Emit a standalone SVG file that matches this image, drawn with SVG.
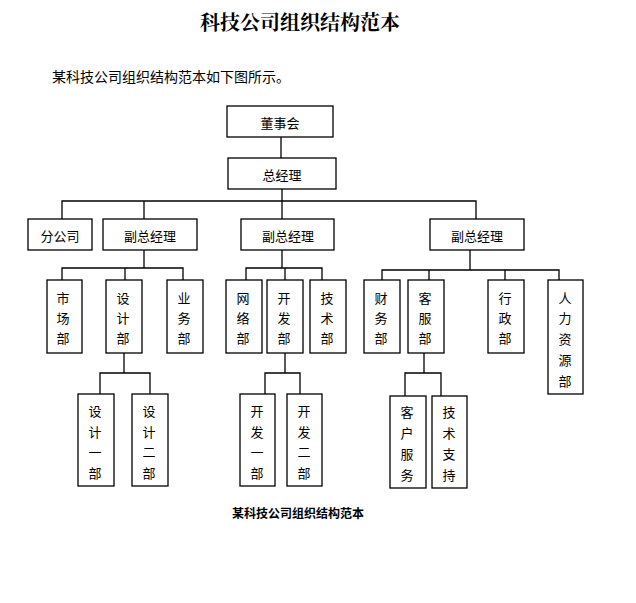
<svg xmlns="http://www.w3.org/2000/svg" width="636" height="603" viewBox="0 0 636 603">
<style>
rect{fill:#fff;stroke:#000;stroke-width:1.3}
.c line,.c polyline{stroke:#000;stroke-width:1.3;fill:none}
text{font-family:"Noto Sans CJK SC","Liberation Sans",sans-serif;font-size:13px;fill:#000;text-anchor:middle;dominant-baseline:central}
</style>
<rect x="0" y="0" width="636" height="603" style="stroke:none"/>
<text x="300" y="21" style="font-family:'Noto Serif CJK SC','Noto Sans CJK SC',serif;font-size:20px;font-weight:bold">科技公司组织结构范本</text>
<text x="52" y="76" style="font-size:14px;text-anchor:start">某科技公司组织结构范本如下图所示。</text>
<text x="298" y="512" style="font-size:12px;font-weight:bold">某科技公司组织结构范本</text>
<g class="c" id="connectors">
<line x1="281" y1="137" x2="281" y2="158"/>
<line x1="282" y1="189" x2="282" y2="219"/>
<polyline points="62,219 62,201 476,201 476,219"/>
<line x1="144" y1="201" x2="144" y2="219"/>
<line x1="144" y1="250" x2="144" y2="268"/>
<polyline points="62,280 62,268 183,268 183,280"/>
<line x1="125" y1="268" x2="125" y2="280"/>
<line x1="282" y1="250" x2="282" y2="268"/>
<polyline points="246,280 246,268 322,268 322,280"/>
<line x1="285" y1="268" x2="285" y2="280"/>
<line x1="470" y1="250" x2="470" y2="270"/>
<polyline points="382,280 382,270 559,270 559,280"/>
<line x1="429" y1="270" x2="429" y2="280"/>
<line x1="505" y1="270" x2="505" y2="280"/>
<line x1="124" y1="353" x2="124" y2="373"/>
<polyline points="100,394 100,373 150,373 150,394"/>
<line x1="285" y1="353" x2="285" y2="373"/>
<polyline points="265,394 265,373 300,373 300,394"/>
<line x1="424" y1="353" x2="424" y2="373"/>
<polyline points="405,396 405,373 441,373 441,396"/>
</g>
<g id="n1"><rect x="227" y="106" width="106" height="31"/><text x="280" y="122">董事会</text></g>
<g id="n2"><rect x="228" y="158" width="108" height="31"/><text x="282" y="174">总经理</text></g>
<g id="n3"><rect x="28" y="219" width="64" height="31"/><text x="60" y="235">分公司</text></g>
<g id="n4"><rect x="103" y="219" width="94" height="31"/><text x="150" y="235">副总经理</text></g>
<g id="n5"><rect x="241" y="219" width="93" height="31"/><text x="288" y="235">副总经理</text></g>
<g id="n6"><rect x="430" y="219" width="94" height="31"/><text x="477" y="235">副总经理</text></g>
<g id="n7"><rect x="47" y="280" width="35" height="73"/><text x="63" y="297">市</text><text x="63" y="317">场</text><text x="63" y="337">部</text></g>
<g id="n8"><rect x="106" y="280" width="36" height="73"/><text x="123" y="297">设</text><text x="123" y="317">计</text><text x="123" y="337">部</text></g>
<g id="n9"><rect x="167" y="280" width="36" height="73"/><text x="184" y="297">业</text><text x="184" y="317">务</text><text x="184" y="337">部</text></g>
<g id="n10"><rect x="226" y="280" width="36" height="73"/><text x="243" y="297">网</text><text x="243" y="317">络</text><text x="243" y="337">部</text></g>
<g id="n11"><rect x="267" y="280" width="36" height="73"/><text x="284" y="297">开</text><text x="284" y="317">发</text><text x="284" y="337">部</text></g>
<g id="n12"><rect x="310" y="280" width="36" height="73"/><text x="327" y="297">技</text><text x="327" y="317">术</text><text x="327" y="337">部</text></g>
<g id="n13"><rect x="364" y="280" width="36" height="73"/><text x="381" y="297">财</text><text x="381" y="317">务</text><text x="381" y="337">部</text></g>
<g id="n14"><rect x="408" y="280" width="36" height="73"/><text x="425" y="297">客</text><text x="425" y="317">服</text><text x="425" y="337">部</text></g>
<g id="n15"><rect x="488" y="280" width="36" height="73"/><text x="505" y="297">行</text><text x="505" y="317">政</text><text x="505" y="337">部</text></g>
<g id="n16"><rect x="548" y="280" width="35" height="114"/><text x="565" y="297">人</text><text x="565" y="317">力</text><text x="565" y="338">资</text><text x="565" y="359">源</text><text x="565" y="380">部</text></g>
<g id="n17"><rect x="78" y="394" width="36" height="92"/><text x="95" y="410">设</text><text x="95" y="431">计</text><text x="95" y="451">一</text><text x="95" y="472">部</text></g>
<g id="n18"><rect x="132" y="394" width="36" height="92"/><text x="149" y="410">设</text><text x="149" y="431">计</text><text x="149" y="451">二</text><text x="149" y="472">部</text></g>
<g id="n19"><rect x="240" y="394" width="35" height="92"/><text x="257" y="410">开</text><text x="257" y="431">发</text><text x="257" y="451">一</text><text x="257" y="472">部</text></g>
<g id="n20"><rect x="287" y="394" width="35" height="92"/><text x="304" y="410">开</text><text x="304" y="431">发</text><text x="304" y="451">二</text><text x="304" y="472">部</text></g>
<g id="n21"><rect x="390" y="396" width="36" height="92"/><text x="407" y="411">客</text><text x="407" y="432">户</text><text x="407" y="453">服</text><text x="407" y="474">务</text></g>
<g id="n22"><rect x="432" y="396" width="35" height="92"/><text x="449" y="411">技</text><text x="449" y="432">术</text><text x="449" y="453">支</text><text x="449" y="474">持</text></g>
</svg>
